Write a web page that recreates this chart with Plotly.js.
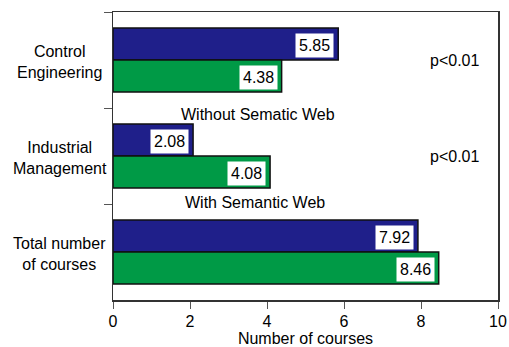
<!DOCTYPE html>
<html>
<head>
<meta charset="utf-8">
<script src="https://cdn.plot.ly/plotly-3.0.1.min.js"></script>
<style>
  html, body { margin: 0; padding: 0; background: #fff; }
  #chart { width: 509px; height: 347px; }
</style>
</head>
<body>
<div id="chart"></div>
<script>
// Course counts by study area, with and without Semantic Web support
const categories = ['Control Engineering', 'Industrial Management', 'Total number of courses'];
const categoryLabels = ['Control<br>Engineering', 'Industrial<br>Management', 'Total number<br>of courses'];
const withoutSW = [5.85, 2.08, 7.92];
const withSW = [4.38, 4.08, 8.46];
const significance = ['p<0.01', 'p<0.01'];
const seriesNames = ['Without Sematic Web', 'With Semantic Web'];
const xTicks = [0, 2, 4, 6, 8, 10];

const FONT = 'Liberation Sans, Arial, Helvetica, sans-serif';
const FS = 16;
const BLUE = '#1f1f8a';
const GREEN = '#009a46';

const traces = [
  {
    type: 'bar', orientation: 'h', name: seriesNames[0],
    y: categories, x: withoutSW,
    marker: { color: BLUE, line: { color: '#111', width: 1.5 } },
    hoverinfo: 'x'
  },
  {
    type: 'bar', orientation: 'h', name: seriesNames[1],
    y: categories, x: withSW,
    marker: { color: GREEN, line: { color: '#111', width: 1.5 } },
    hoverinfo: 'x'
  }
];

const annotations = [];

// value boxes at the end of each bar
function valueBoxes(values, shift) {
  values.forEach((v, i) => {
    annotations.push({
      x: v, y: categories[i], xref: 'x', yref: 'y',
      text: v.toFixed(2), showarrow: false,
      xanchor: 'right', yanchor: 'middle',
      xshift: -4, yshift: shift,
      bgcolor: '#ffffff', borderpad: 3,
      font: { family: FONT, size: FS, color: '#000' }
    });
  });
}
valueBoxes(withoutSW, 14.5);
valueBoxes(withSW, -17);

// centred category labels to the left of the axis
categoryLabels.forEach((t, i) => {
  annotations.push({
    x: -0.1377, xref: 'paper', y: categories[i], yref: 'y',
    text: t, showarrow: false, align: 'center',
    xanchor: 'center', yanchor: 'middle', yshift: -2,
    font: { family: FONT, size: FS, color: '#000' }
  });
});

// significance notes
significance.forEach((t, i) => {
  annotations.push({
    x: 8.86, xref: 'x', y: categories[i], yref: 'y',
    text: t, showarrow: false, xanchor: 'center', yanchor: 'middle',
    font: { family: FONT, size: FS, color: '#000' }
  });
});

// series captions
annotations.push({
  x: 3.77, xref: 'x', y: 0.5625, yref: 'y',
  text: seriesNames[0], showarrow: false, xanchor: 'center', yanchor: 'middle',
  font: { family: FONT, size: FS, color: '#000' }
});
annotations.push({
  x: 3.68, xref: 'x', y: 1.48, yref: 'y',
  text: seriesNames[1], showarrow: false, xanchor: 'center', yanchor: 'middle',
  font: { family: FONT, size: FS, color: '#000' }
});

const layout = {
  width: 509, height: 347,
  margin: { l: 113, r: 11, t: 12, b: 47 },
  paper_bgcolor: '#fff', plot_bgcolor: '#fff',
  showlegend: false,
  barmode: 'group', bargap: 0.333, bargroupgap: 0,
  font: { family: FONT, size: FS, color: '#000' },
  xaxis: {
    range: [0, 10], tickvals: xTicks, ticktext: xTicks.map(String),
    showgrid: false, zeroline: false,
    showline: true, linecolor: '#333', linewidth: 1.5, mirror: true,
    ticks: 'outside', ticklen: 7, tickwidth: 1, tickcolor: '#555',
    ticklabelstandoff: -1,
    tickfont: { family: FONT, size: FS, color: '#000' },
    title: { text: 'Number of courses', font: { family: FONT, size: FS, color: '#000' }, standoff: 4 }
  },
  yaxis: {
    type: 'category', autorange: 'reversed',
    showticklabels: false, tickson: 'boundaries',
    showgrid: false, zeroline: false,
    showline: true, linecolor: '#333', linewidth: 1.5, mirror: true,
    ticks: 'outside', ticklen: 8, tickwidth: 1, tickcolor: '#555'
  },
  annotations: annotations
};

Plotly.newPlot('chart', traces, layout, { displayModeBar: false, staticPlot: true });
</script>
</body>
</html>
